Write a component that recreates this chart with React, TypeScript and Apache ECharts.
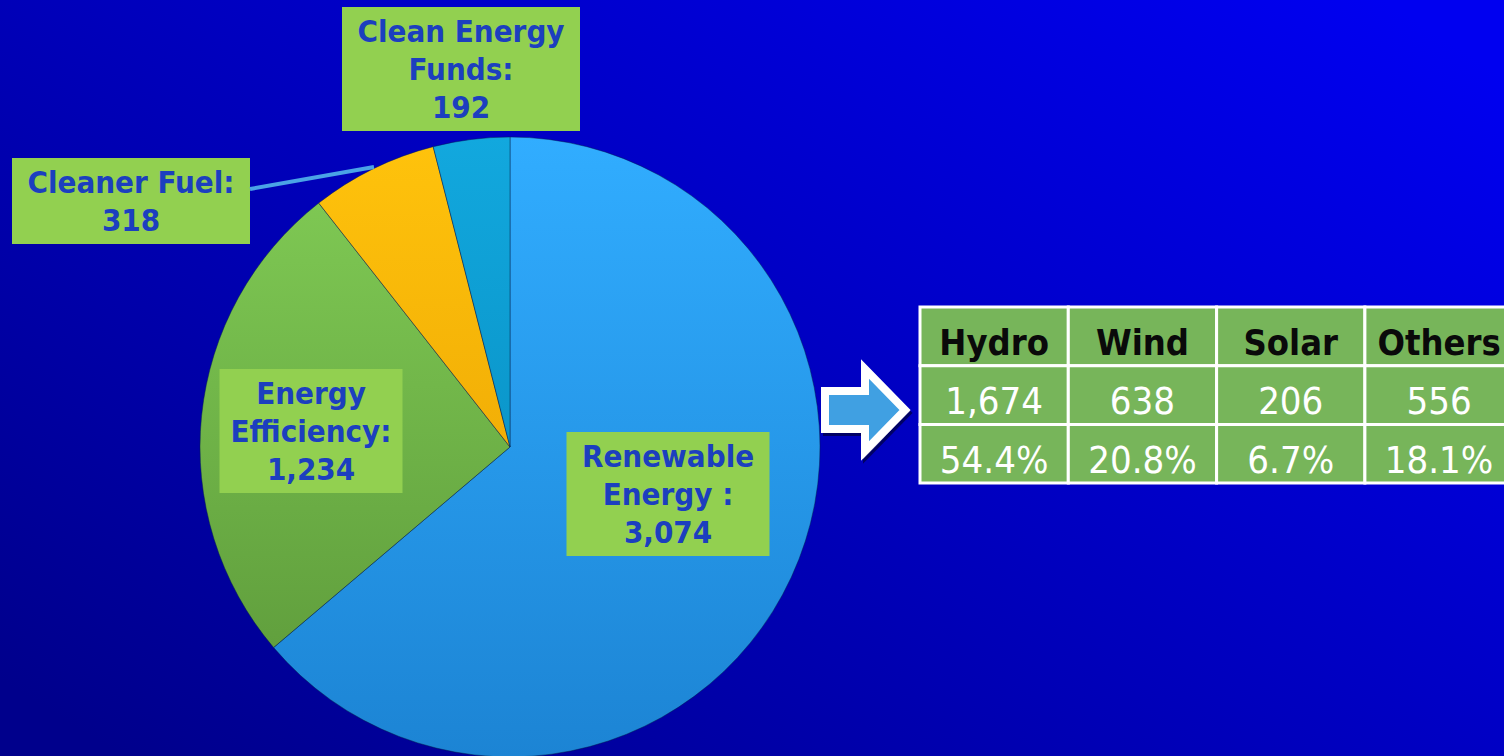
import React, { useEffect, useRef } from "react";
import * as echarts from "echarts";

// ---- data ----
const sliceCategories = ["Renewable\nEnergy :", "Energy\nEfficiency:", "Cleaner Fuel:", "Clean Energy\nFunds:"];
const sliceValues = [3074, 1234, 318, 192];

const tableHeaders = ["Hydro", "Wind", "Solar", "Others"];
const renewableValues = [1674, 638, 206, 556];
const renewableShares = [54.4, 20.8, 6.7, 18.1];

// ---- layout / style ----
const labelBoxes = [
  { x: 668, y: 494, w: 203 },
  { x: 311, y: 431, w: 183 },
  { x: 131, y: 201, w: 238 },
  { x: 461, y: 69, w: 238 },
];
const sliceColors = [
  ["#31adff", "#1c84d4"],
  ["#82cd56", "#5a9638"],
  ["#ffc30c", "#e59a00"],
  ["#12a8de", "#0384b6"],
];
const PIE_CX = 510;
const PIE_CY = 447;
const PIE_R = 310;

const TABLE_X = 920;
const TABLE_Y = 307;
const COL_W = 148.3;
const ROW_H = 58.7;

const fmt = (v: number) => v.toLocaleString("en-US");

export default function App() {
  const ref = useRef<HTMLDivElement>(null);

  useEffect(() => {
    if (!ref.current) return;
    const chart = echarts.init(ref.current, null, { renderer: "svg" });

    const tableEls: any[] = [];
    const rows: string[][] = [
      tableHeaders,
      renewableValues.map(fmt),
      renewableShares.map((s) => s.toFixed(1) + "%"),
    ];
    rows.forEach((row, r) => {
      row.forEach((txt, c) => {
        tableEls.push({
          type: "rect",
          shape: { x: TABLE_X + c * COL_W, y: TABLE_Y + r * ROW_H, width: COL_W, height: ROW_H },
          style: { fill: "#77b55a", stroke: "#ffffff", lineWidth: 3 },
          z: 1,
        });
        tableEls.push({
          type: "text",
          x: TABLE_X + c * COL_W + COL_W / 2,
          y: TABLE_Y + r * ROW_H + ROW_H / 2 + 6,
          style: {
            text: txt,
            fill: r === 0 ? "#0a0a0a" : "#ffffff",
            font: `${r === 0 ? "bold 36px" : "38px"} "DejaVu Sans Condensed", "DejaVu Sans", sans-serif`,
            align: "center",
            verticalAlign: "middle",
          },
          z: 2,
        });
      });
    });

    const arrow = {
      type: "polygon",
      shape: {
        points: [
          [825, 391],
          [865, 391],
          [865, 369],
          [905, 410],
          [865, 451],
          [865, 429],
          [825, 429],
        ],
      },
      style: {
        fill: "#41a0e2",
        stroke: "#ffffff",
        lineWidth: 8,
        lineJoin: "miter",
        shadowColor: "rgba(0,0,40,0.6)",
        shadowOffsetX: 2,
        shadowOffsetY: 3,
      },
      z: 1,
    };

    const leader = {
      type: "line",
      shape: { x1: 250, y1: 189, x2: 374, y2: 167 },
      style: { stroke: "#4aa3e6", lineWidth: 4 },
      z: 5,
    };

    chart.setOption({
      animation: false,
      backgroundColor: {
        type: "linear",
        x: 0,
        y: 0.9,
        x2: 1,
        y2: 0.1,
        colorStops: [
          { offset: 0, color: "#00008c" },
          { offset: 1, color: "#0000f0" },
        ],
      },
      graphic: [...tableEls, arrow, leader],
      series: [
        {
          type: "pie",
          center: [PIE_CX, PIE_CY],
          radius: PIE_R,
          startAngle: 90,
          clockwise: true,
          silent: true,
          avoidLabelOverlap: false,
          z: 3,
          itemStyle: { borderColor: "rgba(0,30,70,0.45)", borderWidth: 1 },
          data: sliceCategories.map((name, i) => ({
            name,
            value: sliceValues[i],
            itemStyle: {
              color: {
                type: "linear",
                x: 0,
                y: PIE_CY - PIE_R,
                x2: 0,
                y2: PIE_CY + PIE_R,
                global: true,
                colorStops: [
                  { offset: 0, color: sliceColors[i][0] },
                  { offset: 1, color: sliceColors[i][1] },
                ],
              },
            },
            label: { width: labelBoxes[i].w },
          })),
          label: {
            show: true,
            position: "inside",
            formatter: (p: any) => `${sliceCategories[p.dataIndex]}\n${fmt(p.value)}`,
            color: "#1c3fbf",
            fontFamily: '"DejaVu Sans Condensed", "DejaVu Sans", sans-serif',
            fontWeight: "bold",
            fontSize: 31,
            lineHeight: 38,
            backgroundColor: "#92d050",
            padding: [5, 0],
            align: "center",
            overflow: "none",
          },
          labelLine: { show: false },
          labelLayout: (params: any) => ({
            x: labelBoxes[params.dataIndex].x,
            y: labelBoxes[params.dataIndex].y,
            align: "center",
            verticalAlign: "middle",
          }),
          emphasis: { disabled: true },
        },
      ],
    });

    return () => chart.dispose();
  }, []);

  return (
    <div
      ref={ref}
      style={{ position: "absolute", left: 0, top: 0, width: 1504, height: 756 }}
    />
  );
}
